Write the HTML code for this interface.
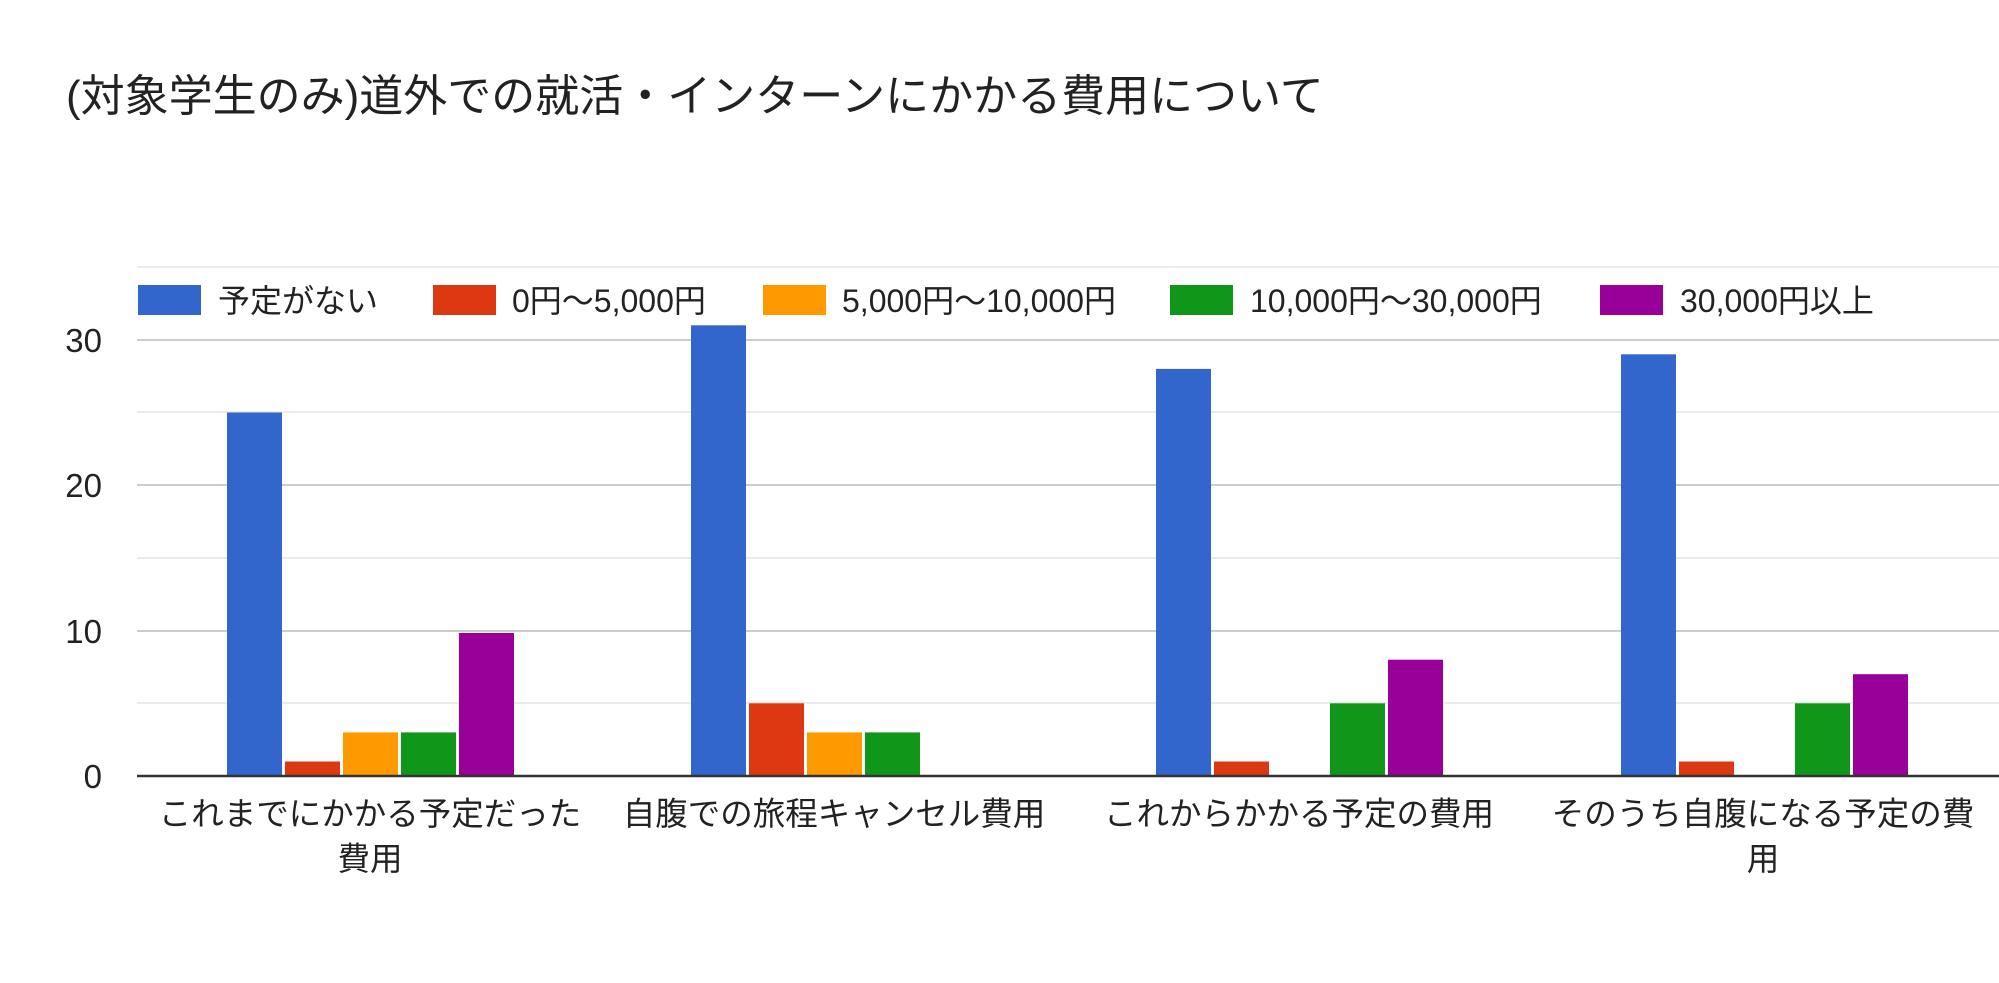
<!DOCTYPE html>
<html><head><meta charset="utf-8"><style>
html,body{margin:0;padding:0;background:#fff;}
svg text{font-family:"Liberation Sans","Noto Sans CJK JP",sans-serif;fill:#222;}
</style></head><body>
<svg width="1999" height="978" xmlns="http://www.w3.org/2000/svg">
<rect width="1999" height="978" fill="#fff"/>
<text x="66" y="111" font-size="44" fill="#212121">(対象学生のみ)道外での就活・インターンにかかる費用について</text>
<g stroke-width="2">
<line x1="137" x2="1999" y1="267" y2="267" stroke="#ebebeb"/>
<line x1="137" x2="1999" y1="340" y2="340" stroke="#cccccc"/>
<line x1="137" x2="1999" y1="412" y2="412" stroke="#ebebeb"/>
<line x1="137" x2="1999" y1="485" y2="485" stroke="#cccccc"/>
<line x1="137" x2="1999" y1="558" y2="558" stroke="#ebebeb"/>
<line x1="137" x2="1999" y1="631" y2="631" stroke="#cccccc"/>
<line x1="137" x2="1999" y1="703" y2="703" stroke="#ebebeb"/>
</g>
<g font-size="33" text-anchor="end" fill="#444">
<text x="102" y="352">30</text>
<text x="102" y="497">20</text>
<text x="102" y="643">10</text>
<text x="102" y="788">0</text>
</g>
<!-- legend -->
<rect x="138" y="285" width="63" height="30" fill="#3366cc"/>
<text x="218" y="312" font-size="32">予定がない</text>
<rect x="433" y="285" width="63" height="30" fill="#dc3912"/>
<text x="512" y="312" font-size="32">0円～5,000円</text>
<rect x="763" y="285" width="63" height="30" fill="#ff9900"/>
<text x="842" y="312" font-size="32">5,000円～10,000円</text>
<rect x="1170" y="285" width="63" height="30" fill="#109618"/>
<text x="1250" y="312" font-size="32">10,000円～30,000円</text>
<rect x="1600" y="285" width="63" height="30" fill="#990099"/>
<text x="1680" y="312" font-size="32">30,000円以上</text>
<g>
<rect x="227" y="412.5" width="55" height="363.5" fill="#3366cc"/>
<rect x="285" y="761.5" width="55" height="14.5" fill="#dc3912"/>
<rect x="343" y="732.4" width="55" height="43.6" fill="#ff9900"/>
<rect x="401" y="732.4" width="55" height="43.6" fill="#109618"/>
<rect x="459" y="633" width="55" height="143" fill="#990099"/>

<rect x="691" y="325.3" width="55" height="450.7" fill="#3366cc"/>
<rect x="749" y="703.3" width="55" height="72.7" fill="#dc3912"/>
<rect x="807" y="732.4" width="55" height="43.6" fill="#ff9900"/>
<rect x="865" y="732.4" width="55" height="43.6" fill="#109618"/>

<rect x="1156" y="368.9" width="55" height="407.1" fill="#3366cc"/>
<rect x="1214" y="761.5" width="55" height="14.5" fill="#dc3912"/>
<rect x="1330" y="703.3" width="55" height="72.7" fill="#109618"/>
<rect x="1388" y="659.7" width="55" height="116.3" fill="#990099"/>

<rect x="1621" y="354.3" width="55" height="421.7" fill="#3366cc"/>
<rect x="1679" y="761.5" width="55" height="14.5" fill="#dc3912"/>
<rect x="1795" y="703.3" width="55" height="72.7" fill="#109618"/>
<rect x="1853" y="674.2" width="55" height="101.8" fill="#990099"/>
</g>
<line x1="137" x2="1999" y1="776" y2="776" stroke="#333" stroke-width="2.5"/>
<g font-size="32.5" text-anchor="middle">
<text x="370" y="825">これまでにかかる予定だった</text>
<text x="370" y="870">費用</text>
<text x="834" y="825">自腹での旅程キャンセル費用</text>
<text x="1299" y="825">これからかかる予定の費用</text>
<text x="1763" y="825">そのうち自腹になる予定の費</text>
<text x="1763" y="870">用</text>
</g>
</svg>
</body></html>
